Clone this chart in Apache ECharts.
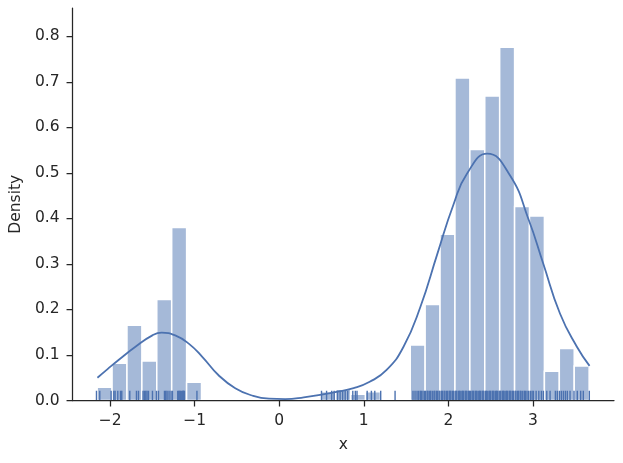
<!DOCTYPE html>
<html>
<head>
<meta charset="utf-8">
<script src="https://cdn.jsdelivr.net/npm/echarts@6/dist/echarts.min.js"></script>
<style>html,body{margin:0;padding:0;background:#fff}#c{width:623px;height:463px}</style>
</head>
<body>
<div id="c"></div>
<script>
// Histogram (density) bins
const binStart = -2.153;
const binWidth = 0.1763;
const binDensity = [0.029, 0.082, 0.165, 0.0865, 0.222, 0.380, 0.040,
  0, 0, 0, 0, 0, 0, 0, 0,
  0.019, 0.0245, 0.014, 0.019, 0, 0,
  0.122, 0.211, 0.365, 0.708, 0.551, 0.669, 0.776, 0.426, 0.405, 0.064, 0.114, 0.0756];

// KDE curve
const kdeX = [-2.15, -2.03, -1.90, -1.70, -1.50, -1.39, -1.23, -1.07, -0.91, -0.72, -0.52, -0.32, -0.12, 0.07, 0.29, 0.68, 0.88, 1.07, 1.27, 1.47, 1.67, 1.87, 2.06, 2.22, 2.46, 2.73, 2.95, 3.12, 3.32, 3.52, 3.67];
const kdeY = [0.050, 0.069, 0.089, 0.118, 0.143, 0.149, 0.143, 0.125, 0.096, 0.056, 0.027, 0.011, 0.004, 0.003, 0.007, 0.019, 0.027, 0.041, 0.067, 0.118, 0.206, 0.322, 0.430, 0.498, 0.542, 0.494, 0.397, 0.302, 0.191, 0.118, 0.076];

// Rug observations
const rugLeft = [-2.161, -2.122, -1.988, -1.956, -1.941, -1.909, -1.877, -1.862, -1.767, -1.688, -1.664, -1.610, -1.593, -1.578, -1.563, -1.546, -1.499, -1.452, -1.428, -1.357, -1.342, -1.326, -1.303, -1.279, -1.263, -1.200, -1.19, -1.176, -1.17, -1.153, -1.14, -1.137, -1.13, -1.121, -0.973];
const rugMid = [0.50, 0.56, 0.62, 0.65, 0.69, 0.72, 0.75, 0.78, 0.81, 0.87, 0.90, 0.92, 1.04, 1.09, 1.13, 1.20, 1.37];
const rugRight = [1.582, 1.606, 1.63, 1.65, 1.67, 1.68, 1.70, 1.72, 1.73, 1.75, 1.76, 1.78, 1.79, 1.81, 1.83, 1.84, 1.86, 1.87, 1.89, 1.90, 1.92, 1.93, 1.95, 1.96, 1.98, 1.99, 2.01, 2.02, 2.03, 2.05, 2.06, 2.08, 2.09, 2.10, 2.12, 2.13, 2.14, 2.16, 2.17, 2.18, 2.20, 2.21, 2.22, 2.24, 2.25, 2.26, 2.28, 2.29, 2.30, 2.32, 2.33, 2.34, 2.36, 2.37, 2.38, 2.40, 2.41, 2.42, 2.44, 2.45, 2.46, 2.48, 2.49, 2.50, 2.52, 2.53, 2.54, 2.56, 2.57, 2.58, 2.60, 2.61, 2.62, 2.64, 2.65, 2.66, 2.68, 2.69, 2.70, 2.72, 2.73, 2.74, 2.76, 2.77, 2.79, 2.80, 2.82, 2.83, 2.85, 2.86, 2.88, 2.90, 2.91, 2.93, 2.95, 2.97, 2.99, 3.006, 3.038, 3.070, 3.100, 3.124, 3.164, 3.203, 3.266, 3.289, 3.313, 3.336, 3.360, 3.384, 3.407, 3.439, 3.486, 3.525, 3.565, 3.596, 3.667];

// Tick values
const xTicks = [-2, -1, 0, 1, 2, 3];
const yTicks = [0, 0.1, 0.2, 0.3, 0.4, 0.5, 0.6, 0.7, 0.8];

const histData = [];
binDensity.forEach((d, i) => {
  if (d > 0) histData.push([binStart + i * binWidth, binStart + (i + 1) * binWidth, d]);
});
const rugData = rugLeft.concat(rugMid, rugRight).map(v => [v]);
const kdeData = kdeX.map((x, i) => [x, kdeY[i]]);

const ink = '#262626';
const blue = '#4c72b0';
const font = 'DejaVu Sans';
const fs = 15.5;

const chart = echarts.init(document.getElementById('c'), null, {renderer: 'canvas'});
chart.setOption({
  animation: false,
  backgroundColor: '#fff',
  grid: {left: 71.7, right: 9, top: 8, bottom: 62.5, containLabel: false},
  xAxis: {
    type: 'value', min: -2.444, max: 3.959, z: 5,
    name: 'x', nameLocation: 'middle', nameGap: 36,
    nameTextStyle: {color: ink, fontFamily: font, fontSize: fs},
    axisLine: {show: true, onZero: false, lineStyle: {color: ink, width: 1.25}},
    axisTick: {show: true, inside: false, length: 6, lineStyle: {color: ink, width: 1.25}, customValues: xTicks},
    axisLabel: {color: ink, fontFamily: font, fontSize: fs, margin: 12,
      customValues: xTicks,
      formatter: v => (v < 0 ? '\u2212' + Math.abs(v) : String(v))},
    splitLine: {show: false}
  },
  yAxis: {
    type: 'value', min: 0, max: 0.862, z: 5,
    name: 'Density', nameLocation: 'middle', nameGap: 43, nameRotate: 90,
    nameTextStyle: {color: ink, fontFamily: font, fontSize: fs},
    axisLine: {show: true, onZero: false, lineStyle: {color: ink, width: 1.25}},
    axisTick: {show: true, inside: false, length: 6, lineStyle: {color: ink, width: 1.25}, customValues: yTicks},
    axisLabel: {color: ink, fontFamily: font, fontSize: fs, margin: 13,
      customValues: yTicks, formatter: v => v.toFixed(1)},
    splitLine: {show: false}
  },
  series: [
    {
      type: 'custom', z: 2, clip: true,
      data: histData,
      renderItem: function (params, api) {
        const p0 = api.coord([api.value(0), api.value(2)]);
        const p1 = api.coord([api.value(1), 0]);
        return {type: 'rect', shape: {x: p0[0], y: p0[1], width: p1[0] - p0[0], height: p1[1] - p0[1]},
          style: {fill: '#a5b9d8', stroke: '#ffffff', lineWidth: 1.5}};
      }
    },
    {
      type: 'line', z: 3, data: kdeData, showSymbol: false, smooth: 0.5,
      lineStyle: {color: blue, width: 1.8}, silent: true
    },
    {
      type: 'custom', z: 4, clip: true,
      data: rugData,
      renderItem: function (params, api) {
        const p = api.coord([api.value(0), 0]);
        const h = params.coordSys.height * 0.025;
        return {type: 'line', shape: {x1: p[0], y1: p[1], x2: p[0], y2: p[1] - h},
          style: {stroke: blue, lineWidth: 1.4}};
      }
    }
  ]
});
</script>
</body>
</html>
